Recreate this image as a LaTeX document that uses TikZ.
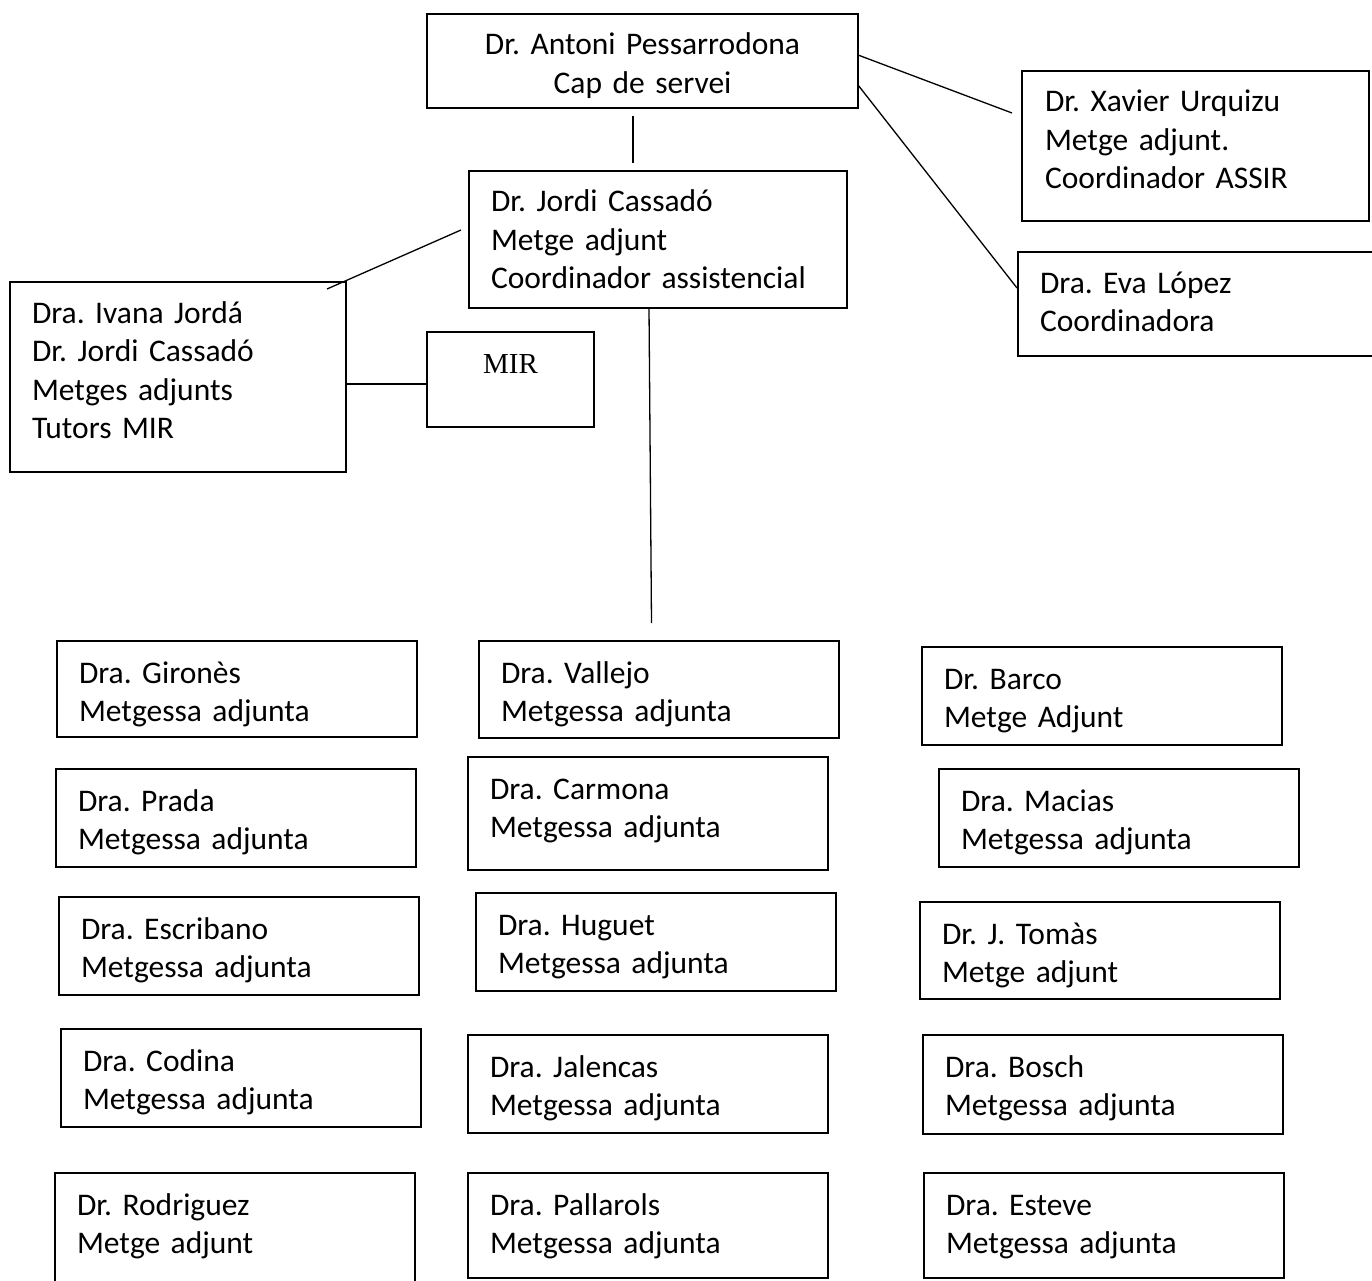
\documentclass[tikz,border=0pt]{standalone}
\usepackage{fontspec}
\setmainfont{Carlito}
\newfontfamily\serifMIR{Liberation Serif}
\frenchspacing
\begin{document}
\begin{tikzpicture}[x=1pt,y=-1pt,
  caixa/.style={draw,line width=1.3pt,anchor=north west,outer sep=0pt,inner ysep=0pt,inner xsep=22pt,
    align=left,text width=316pt,text height=42pt,font=\fontsize{31.5}{38.5}\selectfont},
  linia/.style={line width=1.3pt}]
\useasboundingbox (0,0) rectangle (1372,1281);
\clip (0,0) rectangle (1372,1281);
% direccio
\node[caixa,align=center,inner xsep=0pt,text width=431pt,text height=41pt,text depth=53pt,name=cap] at (427,14) {Dr. Antoni Pessarrodona\\Cap de servei};
\node[caixa,text width=334pt,text height=41pt,text depth=96pt,name=jor] at (469,171) {Dr. Jordi Cassadó\\Metge adjunt\\Coordinador assistencial};
\node[caixa,inner xsep=23pt,text width=301pt,text height=41pt,text depth=109pt,name=xav] at (1022,71) {Dr. Xavier Urquizu\\Metge adjunt.\\Coordinador ASSIR};
\node[caixa,text width=338pt,text height=41pt,text depth=63pt,name=eva] at (1018,252) {Dra. Eva López\\Coordinadora};
\node[caixa,text width=292pt,text height=41pt,text depth=149pt,name=iva] at (10,282) {Dra. Ivana Jordá\\Dr. Jordi Cassadó\\Metges adjunts\\Tutors MIR};
\node[caixa,align=center,inner xsep=0pt,text width=167pt,text height=41pt,text depth=54pt,
  font=\serifMIR\fontsize{29}{35}\selectfont,name=mir] at (427,332) {MIR};
% metges adjunts
\foreach \nm/\xx/\yy/\dd/\nom/\carrec in {
  gir/57/641/54/Dra. Gironès/Metgessa adjunta,
  pra/56/769/56/Dra. Prada/Metgessa adjunta,
  esc/59/897/56/Dra. Escribano/Metgessa adjunta,
  cod/61/1029/56/Dra. Codina/Metgessa adjunta,
  rod/55/1173/120/Dr. Rodriguez/Metge adjunt,
  val/479/641/55/Dra. Vallejo/Metgessa adjunta,
  car/468/757/71/Dra. Carmona/Metgessa adjunta,
  hug/476/893/56/Dra. Huguet/Metgessa adjunta,
  jal/468/1035/56/Dra. Jalencas/Metgessa adjunta,
  pal/468/1173/63/Dra. Pallarols/Metgessa adjunta,
  bar/922/647/56/Dr. Barco/Metge Adjunt,
  mac/939/769/56/Dra. Macias/Metgessa adjunta,
  tom/920/902/55/Dr. J. Tomàs/Metge adjunt,
  bos/923/1035/57/Dra. Bosch/Metgessa adjunta,
  est/924/1173/63/Dra. Esteve/Metgessa adjunta}{
  \node[caixa,text depth=\dd pt,name=\nm] at (\xx,\yy) {\nom\\\carrec};
};
% connexions
\draw[linia] ([yshift=-41pt]cap.north east) -- ([xshift=-10pt,yshift=-42pt]xav.north west);
\draw[linia] ([yshift=-71pt]cap.north east) -- ([xshift=-1pt,yshift=-36pt]eva.north west);
\draw[linia,shorten <=8pt,shorten >=8pt] ([xshift=-9.5pt]cap.south) -- ([xshift=-9.5pt]cap.south |- jor.north);
\draw[linia] ([xshift=-8pt,yshift=-59pt]jor.north west) -- ([xshift=-19pt,yshift=-7pt]iva.north east);
\draw[linia] ([yshift=-7pt]iva.east) -- ([yshift=-7pt]iva.east -| mir.west);
\draw[linia] ([xshift=-9pt]jor.south) -- ([xshift=-7.5pt,yshift=18pt]val.north);
\end{tikzpicture}
\end{document}
